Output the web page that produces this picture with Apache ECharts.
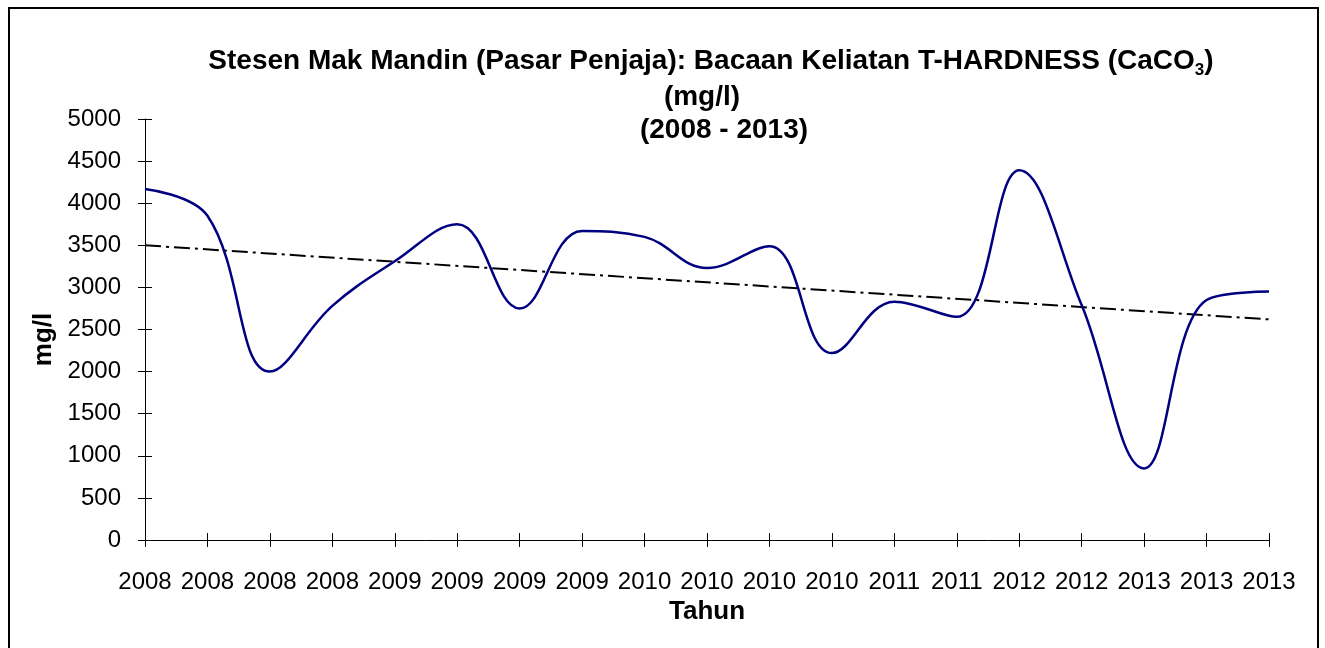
<!DOCTYPE html>
<html>
<head>
<meta charset="utf-8">
<title>T-HARDNESS Mak Mandin</title>
<script src="https://cdn.jsdelivr.net/npm/echarts@6/dist/echarts.min.js"></script>
<style>
  html, body { margin: 0; padding: 0; background: #fff; }
  #chart { width: 1325px; height: 648px; }
</style>
</head>
<body>
<div id="chart"></div>
<script>
// data
const years = ['2008', '2008', '2008', '2008', '2009', '2009', '2009', '2009', '2010', '2010',
  '2010', '2010', '2011', '2011', '2012', '2012', '2013', '2013', '2013'];
const hardness = [4170, 3850, 2000, 2780, 3310, 3750, 2750, 3670, 3600, 3230,
  3490, 2220, 2830, 2650, 4390, 2790, 850, 2850, 2950];
// linear trend, start and end values
const trendEnds = [3500, 2620];
const yMin = 0, yMax = 5000, yStep = 500;

const font = 'Liberation Sans, Arial, sans-serif';

// trend line: only the two end points, gaps joined
const trendData = years.map(() => null);
trendData[0] = trendEnds[0];
trendData[years.length - 1] = trendEnds[1];

const chart = echarts.init(document.getElementById('chart'));

const titleStyle = {
  fontFamily: font,
  fontWeight: 'bold',
  fontSize: 28,
  lineHeight: 28,
  color: '#000'
};
// first title line is taller so the subscript can drop below the baseline
const titleStyleSub = Object.assign({}, titleStyle, {
  lineHeight: 36,
  rich: {
    sub: { fontFamily: font, fontWeight: 'bold', fontSize: 17, lineHeight: 2, verticalAlign: 'bottom', color: '#000' }
  }
});

const option = {
  animation: false,
  backgroundColor: '#fff',
  title: [
    { text: 'Stesen Mak Mandin (Pasar Penjaja): Bacaan Keliatan T-HARDNESS (CaCO{sub|3})', left: 706, top: 38, textAlign: 'center', textStyle: titleStyleSub },
    { text: '(mg/l)', left: 697, top: 78, textAlign: 'center', textStyle: titleStyle },
    { text: '(2008 - 2013)', left: 719, top: 111, textAlign: 'center', textStyle: titleStyle }
  ],
  grid: { left: 145, right: 56, top: 119, bottom: 108 },
  xAxis: [
    {
      type: 'category',
      data: years,
      boundaryGap: false,
      name: 'Tahun',
      nameLocation: 'middle',
      nameGap: 53,
      nameTextStyle: { fontFamily: font, fontWeight: 'bold', fontSize: 26, color: '#000' },
      axisLine: { lineStyle: { color: '#000', width: 1 } },
      axisTick: { inside: false, length: 7, interval: 0, lineStyle: { color: '#000' } },
      axisLabel: { interval: 0, margin: 30, fontFamily: font, fontSize: 24, color: '#000' },
      splitLine: { show: false }
    },
    {
      // inner half of the crossing ticks
      type: 'category',
      data: years,
      boundaryGap: false,
      position: 'top',
      offset: -421,
      axisLine: { show: false },
      axisTick: { inside: false, length: 7, interval: 0, lineStyle: { color: '#000' } },
      axisLabel: { show: false },
      splitLine: { show: false }
    }
  ],
  yAxis: [
    {
      type: 'value',
      min: yMin,
      max: yMax,
      interval: yStep,
      name: 'mg/l',
      nameLocation: 'middle',
      nameGap: 78,
      nameRotate: 90,
      nameTextStyle: { fontFamily: font, fontWeight: 'bold', fontSize: 26, color: '#000', padding: [0, 20, 0, 0] },
      axisLine: { show: true, lineStyle: { color: '#000', width: 1 } },
      axisTick: { show: true, inside: false, length: 7, lineStyle: { color: '#000' } },
      axisLabel: { margin: 24, fontFamily: font, fontSize: 24, color: '#000', formatter: v => String(v) },
      splitLine: { show: false }
    },
    {
      type: 'value',
      min: yMin,
      max: yMax,
      interval: yStep,
      position: 'right',
      offset: -1124,
      axisLine: { show: false },
      axisTick: { show: true, inside: false, length: 7, lineStyle: { color: '#000' } },
      axisLabel: { show: false },
      splitLine: { show: false }
    }
  ],
  series: [
    {
      name: 'T-HARDNESS',
      type: 'line',
      data: hardness,
      smooth: 0.4,
      showSymbol: false,
      lineStyle: { color: '#000080', width: 2.5 },
      z: 3
    },
    {
      name: 'Trend',
      type: 'line',
      data: trendData,
      connectNulls: true,
      showSymbol: false,
      lineStyle: { color: '#000', width: 2, type: [16, 5, 3, 5] },
      z: 2
    }
  ],
  graphic: [
    {
      type: 'rect',
      shape: { x: 9, y: 8, width: 1309, height: 700 },
      style: { fill: null, stroke: '#000', lineWidth: 2 },
      silent: true
    }
  ]
};

chart.setOption(option);
</script>
</body>
</html>
